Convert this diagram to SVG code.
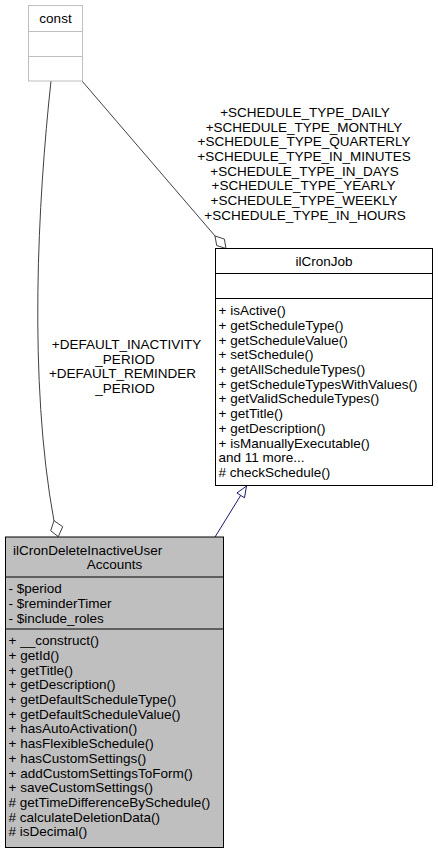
<svg xmlns="http://www.w3.org/2000/svg" width="438" height="853" viewBox="0 0 438 853">
<style>
text{font-family:"Liberation Sans",Arial,sans-serif;font-size:13.5px;fill:#000}
.m{text-anchor:middle}
.box{fill:#fff;stroke:#000;stroke-width:1}
.cbox{fill:#fff;stroke:#bfbfbf;stroke-width:1}
.gbox{fill:#bfbfbf;stroke:#000;stroke-width:1}
.e{fill:none;stroke:#404040;stroke-width:1}
.d{fill:#fff;stroke:#404040;stroke-width:1}
.inh{fill:none;stroke:#191970;stroke-width:1}
.tri{fill:#fff;stroke:#191970;stroke-width:1}
</style>
<rect width="438" height="853" fill="#fff"/>
<g id="connectors">
<path class="e" d="M82,81 L215.5,236.5"/>
<polygon class="d" points="215,236 224.3,239 226,248.5 216.7,245.5"/>
<path class="e" d="M51,81 C38,200 28,380 54,521"/>
<polygon class="d" points="54,520.7 62.7,526.7 58.3,536.7 50.7,530.7"/>
<path class="inh" d="M215,537 L240.7,495.4"/>
<polygon class="tri" points="246.5,486 236.9,493 244.5,497.8"/>
<g id="label-schedule">
<text class="m" x="305" y="116.8">+SCHEDULE_TYPE_DAILY</text>
<text class="m" x="304" y="131.5">+SCHEDULE_TYPE_MONTHLY</text>
<text class="m" x="304" y="146.2">+SCHEDULE_TYPE_QUARTERLY</text>
<text class="m" x="304" y="160.9">+SCHEDULE_TYPE_IN_MINUTES</text>
<text class="m" x="304.5" y="175.6">+SCHEDULE_TYPE_IN_DAYS</text>
<text class="m" x="303.5" y="190.3">+SCHEDULE_TYPE_YEARLY</text>
<text class="m" x="304" y="205">+SCHEDULE_TYPE_WEEKLY</text>
<text class="m" x="305" y="219.7">+SCHEDULE_TYPE_IN_HOURS</text>
</g>
<g id="label-default">
<text class="m" x="126.5" y="348.8">+DEFAULT_INACTIVITY</text>
<text class="m" x="125" y="363.5">_PERIOD</text>
<text class="m" x="122.5" y="378.2">+DEFAULT_REMINDER</text>
<text class="m" x="125" y="392.9">_PERIOD</text>
</g>
</g>
<g id="const">
<rect class="cbox" x="28.5" y="5.5" width="54" height="75.5"/>
<line class="cbox" x1="28.5" y1="31.5" x2="82.5" y2="31.5"/>
<line class="cbox" x1="28.5" y1="56.5" x2="82.5" y2="56.5"/>
<text class="m" x="55.5" y="23">const</text>
</g>
<g id="ilCronJob">
<rect class="box" x="215.5" y="248.5" width="217" height="237"/>
<line class="box" x1="215.5" y1="273.5" x2="432.5" y2="273.5"/>
<line class="box" x1="215.5" y1="298.5" x2="432.5" y2="298.5"/>
<text class="m" x="324" y="265.8">ilCronJob</text>
<text x="218.5" y="315.2">+ isActive()</text>
<text x="218.5" y="329.9">+ getScheduleType()</text>
<text x="218.5" y="344.6">+ getScheduleValue()</text>
<text x="218.5" y="359.3">+ setSchedule()</text>
<text x="218.5" y="374">+ getAllScheduleTypes()</text>
<text x="218.5" y="388.7">+ getScheduleTypesWithValues()</text>
<text x="218.5" y="403.4">+ getValidScheduleTypes()</text>
<text x="218.5" y="418.1">+ getTitle()</text>
<text x="218.5" y="432.8">+ getDescription()</text>
<text x="218.5" y="447.5">+ isManuallyExecutable()</text>
<text x="218.5" y="462.2">and 11 more...</text>
<text x="218.5" y="476.9"># checkSchedule()</text>
</g>
<g id="ilCronDeleteInactiveUserAccounts">
<rect class="gbox" x="5.5" y="537" width="218" height="310.5"/>
<line class="gbox" x1="5.5" y1="577" x2="223.5" y2="577"/>
<line class="gbox" x1="5.5" y1="629" x2="223.5" y2="629"/>
<text x="13" y="554.5">ilCronDeleteInactiveUser</text>
<text class="m" x="114.5" y="568.8">Accounts</text>
<text x="8.5" y="593.2">- $period</text>
<text x="8.5" y="607.9">- $reminderTimer</text>
<text x="8.5" y="622.6">- $include_roles</text>
<text x="8.5" y="645.2">+ __construct()</text>
<text x="8.5" y="659.9">+ getId()</text>
<text x="8.5" y="674.6">+ getTitle()</text>
<text x="8.5" y="689.3">+ getDescription()</text>
<text x="8.5" y="704">+ getDefaultScheduleType()</text>
<text x="8.5" y="718.7">+ getDefaultScheduleValue()</text>
<text x="8.5" y="733.4">+ hasAutoActivation()</text>
<text x="8.5" y="748.1">+ hasFlexibleSchedule()</text>
<text x="8.5" y="762.8">+ hasCustomSettings()</text>
<text x="8.5" y="777.5">+ addCustomSettingsToForm()</text>
<text x="8.5" y="792.2">+ saveCustomSettings()</text>
<text x="8.5" y="806.9"># getTimeDifferenceBySchedule()</text>
<text x="8.5" y="821.6"># calculateDeletionData()</text>
<text x="8.5" y="836.3"># isDecimal()</text>
</g>
</svg>
